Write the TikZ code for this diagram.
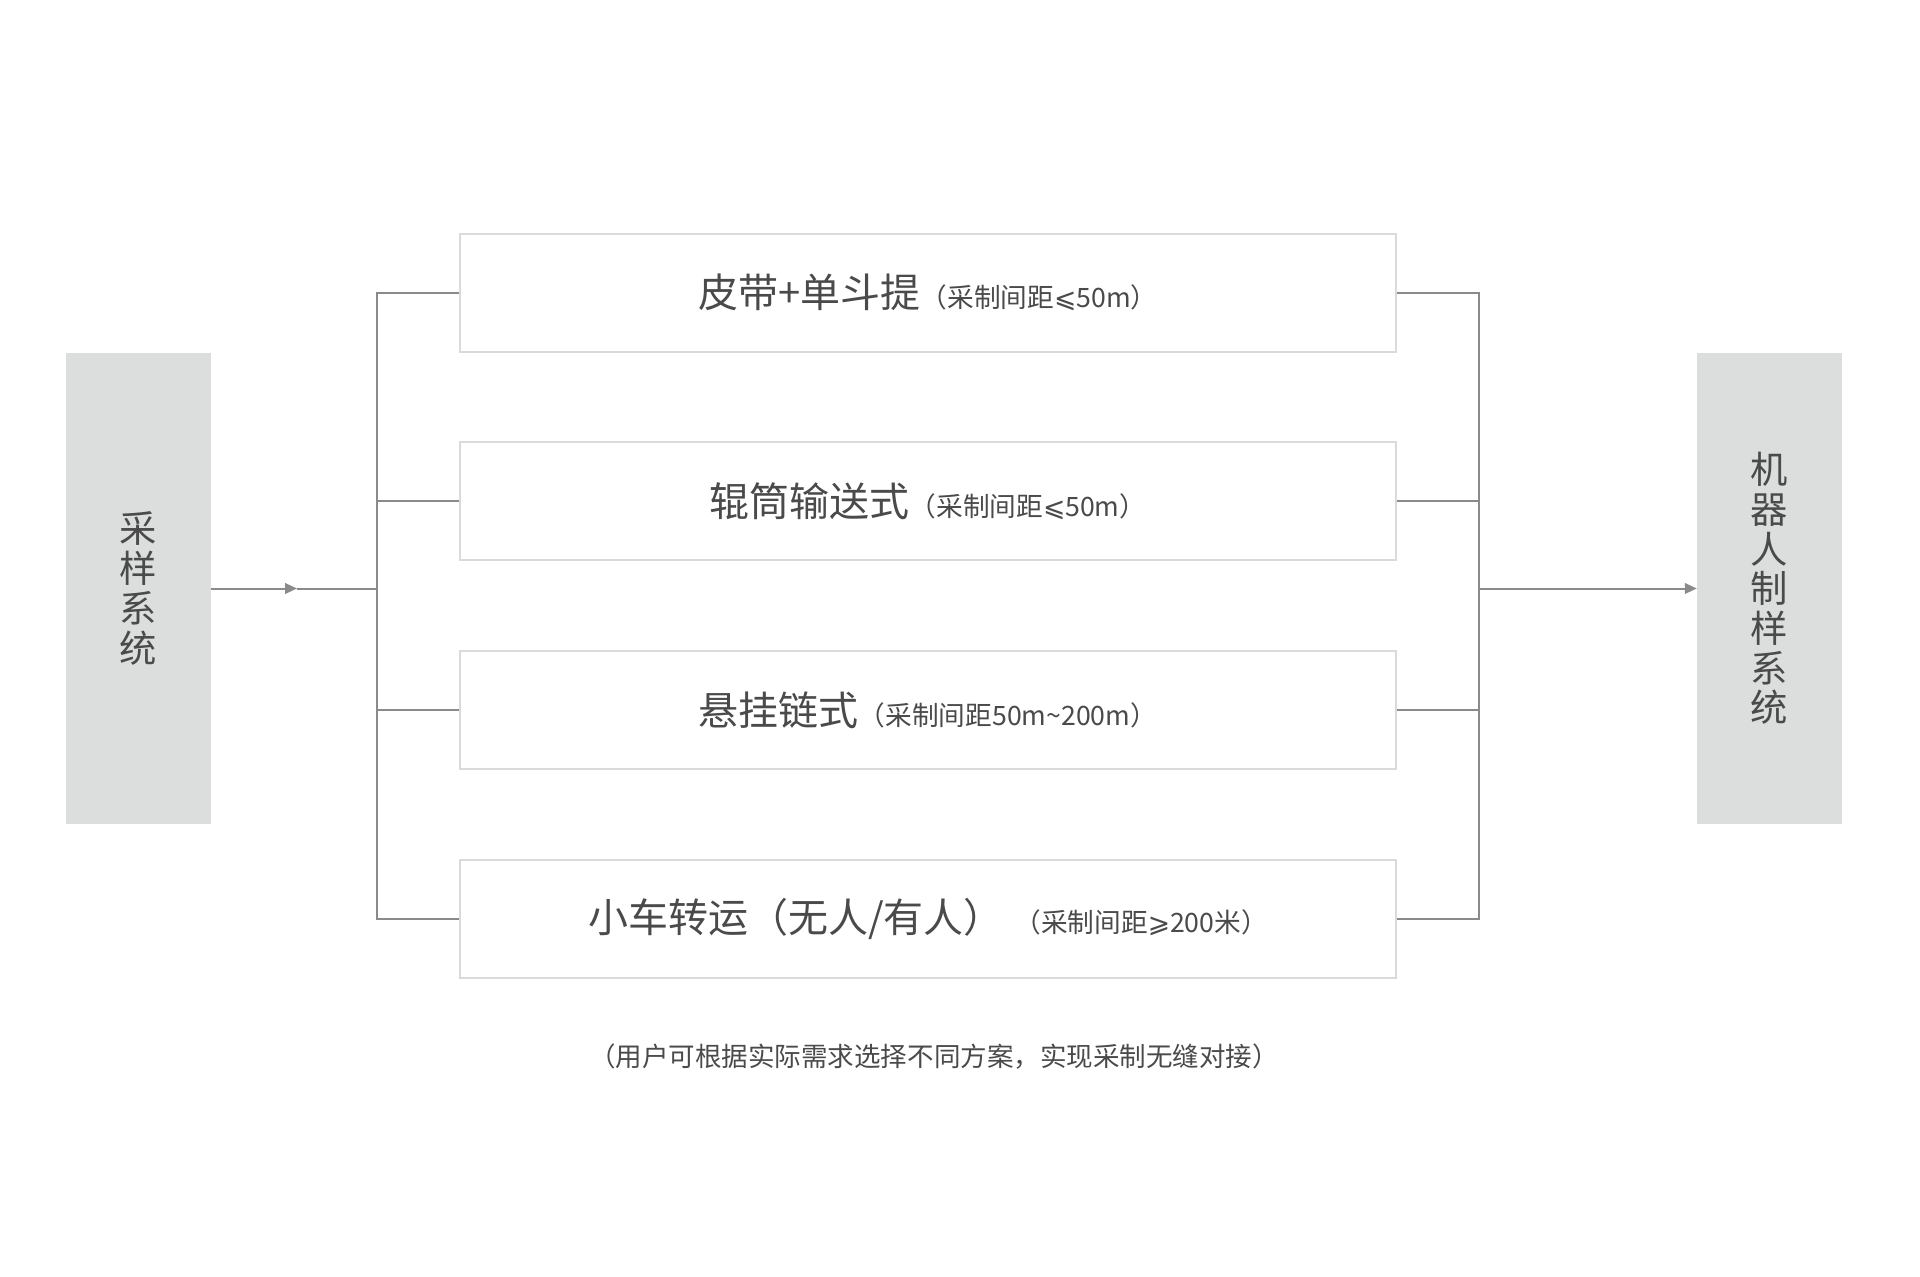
\documentclass[tikz,border=0pt]{standalone}
\usepackage{fontspec}
\setmainfont{Noto Sans CJK SC}
\newfontfamily\mathsym{DejaVu Sans}
\usepackage{xcolor}
\usetikzlibrary{arrows.meta,positioning,calc}

\definecolor{boxgray}{HTML}{DCDDDD}
\definecolor{edgegray}{HTML}{DADADA}
\definecolor{linegray}{HTML}{8A8A8A}
\definecolor{txtgray}{HTML}{4A4A4A}
\newcommand{\distnote}[1]{{\fontsize{20}{21}\selectfont #1}}

\begin{document}
\begin{tikzpicture}[
    x=0.75pt, y=-0.75pt,
    node distance=66.5pt,
    route/.style={draw=edgegray, line width=1.5pt, fill=white, minimum width=702pt,
                  minimum height=88.5pt, inner sep=0pt, text=txtgray,
                  font=\fontsize{30}{31}\selectfont},
    sys/.style={fill=boxgray, minimum width=108.75pt, minimum height=353.25pt,
                inner sep=0pt, align=center, text=txtgray,
                font=\fontsize{28}{29.8}\selectfont},
    line/.style={draw=linegray, line width=1.5pt},
    head/.style={line, -{Triangle[length=9pt,width=8pt]}}
]
\useasboundingbox (0,0) rectangle (1920,1277);

\node[sys]   (sample) at (138.5,588.5)  {采\\样\\系\\统};
\node[sys]   (robot)  at (1769.5,588.5) {机\\器\\人\\制\\样\\系\\统};

\node[route] (belt)  at (928,292.7)    {皮带+单斗提\distnote{（采制间距{\mathsym ⩽}50m）}};
\node[route, below=of belt]   (roller) {辊筒输送式\distnote{（采制间距{\mathsym ⩽}50m）}};
\node[route, below=of roller] (chain)  {悬挂链式\distnote{（采制间距50m\textasciitilde200m）}};
\node[route, below=of chain]  (cart)   {小车转运（无人/有人）\hspace{8pt}\distnote{（采制间距{\mathsym ⩾}200米）}};

\node[text=txtgray, font=\fontsize{19.9}{21}\selectfont] (remark) at (934,1057)
     {（用户可根据实际需求选择不同方案，实现采制无缝对接）};

% bus lines
\coordinate (lmid) at (297,588.5);
\coordinate (lbus) at (377,588.5);
\coordinate (rbus) at (1479,588.5);

\draw[head] (sample.east) -- (lmid);
\draw[line] (lmid) -- (lbus);
\draw[line] (belt.west) -| (lbus |- cart.west) -- (cart.west);
\draw[line] (lbus |- roller.west) -- (roller.west);
\draw[line] (lbus |- chain.west) -- (chain.west);

\draw[line] (belt.east) -| (rbus |- cart.east) -- (cart.east);
\draw[line] (roller.east) -- (rbus |- roller.east);
\draw[line] (chain.east) -- (rbus |- chain.east);
\draw[head] (rbus) -- (robot.west);
\end{tikzpicture}
\end{document}
